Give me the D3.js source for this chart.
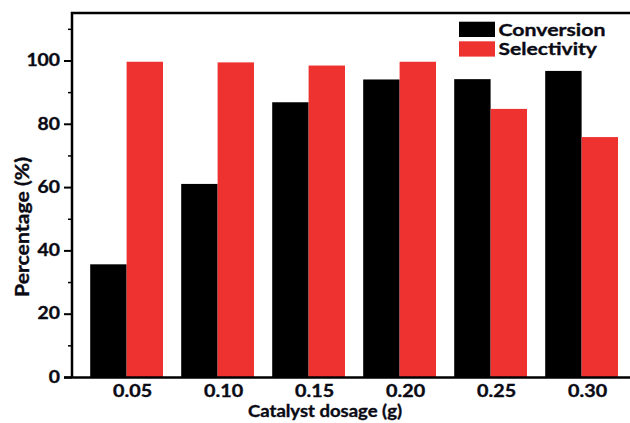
<!DOCTYPE html>
<html>
<head>
<meta charset="utf-8">
<script src="https://cdn.jsdelivr.net/npm/d3@7"></script>
<style>
  html, body { margin: 0; padding: 0; background: #fff; }
  svg { display: block; }
  text { font-family: Lato, "Open Sans", sans-serif; font-weight: bold; fill: #0a0a14; stroke: #0a0a14; stroke-width: 0.35px; }
</style>
</head>
<body>
<svg id="chart" width="630" height="423"></svg>
<script>
const categories = ["0.05", "0.10", "0.15", "0.20", "0.25", "0.30"];
const conversion = [35.6, 61.0, 86.8, 94.0, 94.1, 96.7];
const selectivity = [99.6, 99.4, 98.4, 99.6, 84.7, 75.8];
const seriesNames = ["Conversion", "Selectivity"];
const seriesColors = ["#000000", "#ee3230"];
const yTicks = [0, 20, 40, 60, 80, 100];
const yMinorTicks = [10, 30, 50, 70, 90, 110];
const xTitle = "Catalyst dosage (g)";
const yTitle = "Percentage (%)";

const svg = d3.select("#chart");
const mLeft = 72, mRight = 636.2, mTop = 13, mBottom = 377;

const x = d3.scaleBand().domain(categories).range([mLeft, mRight]).paddingInner(0.2).paddingOuter(0.2);
const xs = d3.scaleBand().domain(seriesNames).range([0, x.bandwidth()]);
const y = d3.scaleLinear().domain([0, 115]).range([mBottom, mTop]);

function fit(sel, w) {
  sel.attr("textLength", w).attr("lengthAdjust", "spacingAndGlyphs");
}

const rows = categories.map((c, i) => ({ cat: c, vals: [conversion[i], selectivity[i]] }));

// bars
const g = svg.append("g");
rows.forEach(r => {
  r.vals.forEach((v, j) => {
    g.append("rect")
      .attr("x", x(r.cat) + xs(seriesNames[j]))
      .attr("y", y(v))
      .attr("width", xs.bandwidth())
      .attr("height", y(0) - y(v))
      .attr("fill", seriesColors[j]);
  });
});

// frame: left side and top border in one path
svg.append("path")
  .attr("d", `M${mLeft},${y(0)} V${y(115)} H640`)
  .attr("fill", "none").attr("stroke", "#000").attr("stroke-width", 2.5);

// y axis (major)
const yAxis = svg.append("g").attr("transform", `translate(${mLeft},0)`)
  .call(d3.axisLeft(y).tickValues(yTicks).tickSize(8).tickSizeOuter(0).tickPadding(4));
yAxis.select(".domain").remove();
yAxis.selectAll(".tick line").attr("stroke-width", 2);
yAxis.selectAll(".tick text").style("font-size", "16.5px")
  .each(function (d) { fit(d3.select(this), String(d).length * 11.2); });

// y minor ticks
const yMinor = svg.append("g").attr("transform", `translate(${mLeft},0)`)
  .call(d3.axisLeft(y).tickValues(yMinorTicks).tickSize(4).tickFormat(""));
yMinor.select(".domain").remove();
yMinor.selectAll(".tick line").attr("stroke-width", 1.5);

// x axis
const xAxis = svg.append("g").attr("transform", `translate(0,${mBottom})`)
  .call(d3.axisBottom(x).tickSize(0).tickPadding(8.5).tickSizeOuter(0));
xAxis.select(".domain").remove();
xAxis.selectAll(".tick text").style("font-size", "16.5px").attr("dx", 6)
  .each(function () { fit(d3.select(this), 39); });
svg.append("path")
  .attr("d", `M${mLeft - 8},${mBottom + 0.5} H640`)
  .attr("fill", "none").attr("stroke", "#000").attr("stroke-width", 2.6);

// axis titles
svg.append("text").attr("x", 325).attr("y", 416.5).attr("text-anchor", "middle")
  .style("font-size", "16.3px").text(xTitle).call(fit, 154);
svg.append("text").attr("transform", "translate(28.5,227) rotate(-90)").attr("text-anchor", "middle")
  .style("font-size", "19.5px").text(yTitle).call(fit, 140);

// legend
const lg = svg.append("g");
seriesNames.forEach((s, i) => {
  lg.append("rect").attr("x", 459).attr("y", 21.7 + i * 19.6).attr("width", 36).attr("height", 15.3)
    .attr("fill", seriesColors[i]);
  lg.append("text").attr("x", 498.5).attr("y", 35.8 + i * 19.6).style("font-size", "17.5px")
    .text(s).call(fit, i === 0 ? 107 : 98.5);
});
</script>
</body>
</html>
